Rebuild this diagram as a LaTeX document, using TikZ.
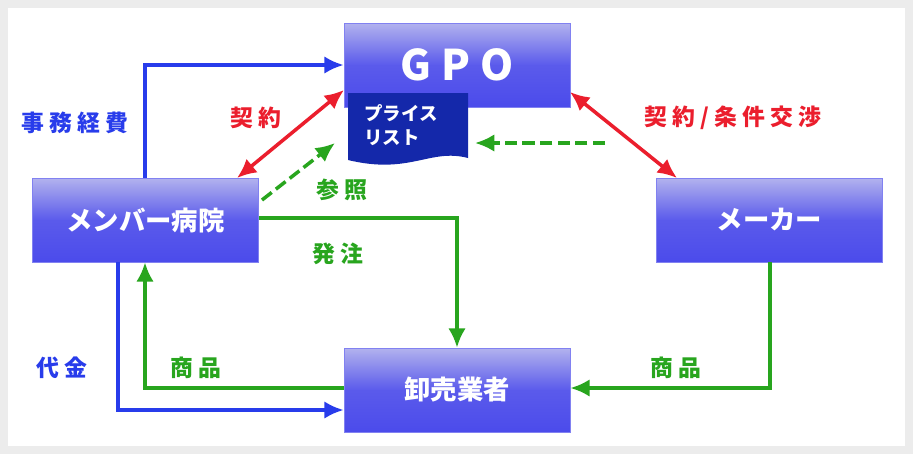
\documentclass[tikz,border=0pt]{standalone}
\usepackage{fontspec}
\newfontfamily\jp{Noto Sans CJK JP}
\usetikzlibrary{arrows.meta}
\definecolor{bluelink}{RGB}{40,60,235}
\definecolor{redlink}{RGB}{235,30,45}
\definecolor{greenlink}{RGB}{40,165,30}
\definecolor{boxtop}{RGB}{178,178,238}
\definecolor{boxbot}{RGB}{75,75,235}
\definecolor{listblue}{RGB}{20,40,170}
\tikzset{
  party/.style={rectangle, minimum width=226*0.02cm, minimum height=84*0.02cm,
    top color=boxtop, bottom color=boxbot, middle color=boxbot!85!boxtop,
    draw=boxbot!70!white, text=white, font=\jp\bfseries\fontsize{15}{17}\selectfont},
  link/.style={line width=2pt, -{Latex[length=11pt,width=10pt]}},
  both/.style={line width=2pt, {Latex[length=11pt,width=10pt]}-{Latex[length=11pt,width=10pt]}},
  tag/.style={font=\jp\bfseries\fontsize{13}{15}\selectfont}
}
\begin{document}
\begin{tikzpicture}[x=0.02cm, y=-0.02cm]
% frame
\fill[gray!15] (0,0) rectangle (913,454);
\fill[white] (8,8) rectangle (905,446);
\useasboundingbox (0,0) rectangle (913,454);

% boxes
\node[party, font=\jp\bfseries\fontsize{24}{26}\selectfont] (gpo) at (457,65) {G P O};
\fill[listblue] (348,93) -- (468,93) -- (468,158) .. controls (430,148) and (410,175) .. (348,160) -- cycle;
\node[text=white, font=\jp\bfseries\fontsize{10.5}{14}\selectfont, align=left, anchor=north west] (plist) at (358,98) {プライス\\リスト};
\coordinate (plistin) at (475,143);
\node[party] (hosp) at (145.5,220) {メンバー病院};
\node[party] (maker) at (769.5,220) {メーカー};
\node[party] (whole) at (457,390) {卸売業者};

% connectors
\draw[link, bluelink] (hosp.north -| 145,0) |- (gpo.west);
\draw[both, redlink] (237,178) -- (344,90);
\draw[link, greenlink, dashed, dash pattern=on 7pt off 3pt] (262,200) -- (335,143);
\draw[both, redlink] (570,92) -- (677,178);
\draw[link, greenlink, dashed, dash pattern=on 7pt off 3pt] (605,143) -- (plistin);
\draw[link, greenlink] (hosp.east |- 0,218) -| (whole.north);
\draw[link, bluelink] (hosp.south -| 118,0) |- (whole.west |- 0,410);
\draw[link, greenlink] (whole.west |- 0,388) -| (hosp.south -| 145,0);
\draw[link, greenlink] (maker.south -| 770,0) |- (whole.east |- 0,388);

% labels
\node[tag, text=bluelink] (fee) at (75,123) {事 務 経 費};
\node[tag, text=redlink] (con1) at (256,118) {契 約};
\node[tag, text=greenlink] (ref) at (342,190) {参 照};
\node[tag, text=greenlink] (ord) at (338,254) {発 注};
\node[tag, text=redlink] (con2) at (733,118) {契 約 / 条 件 交 渉};
\node[tag, text=bluelink] (pay) at (62,368) {代 金};
\node[tag, text=greenlink] (goods1) at (196,368) {商 品};
\node[tag, text=greenlink] (goods2) at (676,368) {商 品};
\end{tikzpicture}
\end{document}
